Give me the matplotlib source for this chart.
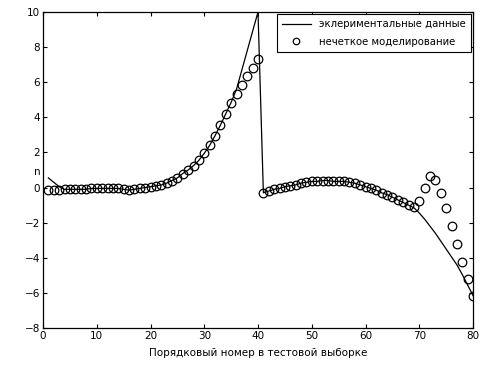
import numpy as np
import matplotlib
matplotlib.use("Agg")
import matplotlib.pyplot as plt

# test sample index
idx = np.arange(1, 81)

# fuzzy model output (circles)
model = [-0.15, -0.15, -0.15, -0.1, -0.1, -0.1, -0.1, -0.1, -0.05, -0.05,
         -0.05, -0.05, -0.05, -0.05, -0.1, -0.15, -0.1, -0.05, 0.0, 0.05,
         0.1, 0.15, 0.25, 0.4, 0.55, 0.8, 1.0, 1.25, 1.55, 1.95,
         2.4, 2.95, 3.55, 4.2, 4.8, 5.35, 5.85, 6.35, 6.8, 7.3,
         -0.3, -0.2, -0.1, -0.05, 0.05, 0.1, 0.15, 0.25, 0.3, 0.35,
         0.35, 0.4, 0.4, 0.35, 0.35, 0.35, 0.3, 0.25, 0.15, 0.05,
         -0.05, -0.15, -0.3, -0.4, -0.55, -0.7, -0.85, -1.0, -1.1, -0.75,
         0.0, 0.65, 0.45, -0.3, -1.15, -2.2, -3.2, -4.25, -5.2, -6.2]

# experimental data (line)
exper = [0.55, 0.3, 0.05, -0.1, -0.1, -0.1, -0.1, -0.1, -0.05, -0.05,
         -0.05, -0.05, -0.05, -0.05, -0.1, -0.15, -0.1, -0.05, 0.0, 0.05,
         0.1, 0.15, 0.25, 0.4, 0.55, 0.8, 1.0, 1.25, 1.55, 1.95,
         2.4, 2.95, 3.55, 4.2, 4.85, 5.6, 6.7, 7.8, 8.9, 10.0,
         -0.3, -0.2, -0.1, -0.05, 0.05, 0.1, 0.15, 0.25, 0.3, 0.35,
         0.35, 0.4, 0.4, 0.35, 0.35, 0.35, 0.3, 0.25, 0.15, 0.05,
         -0.05, -0.15, -0.3, -0.4, -0.55, -0.7, -0.85, -1.0, -1.15, -1.45,
         -1.8, -2.2, -2.6, -3.05, -3.5, -3.95, -4.4, -4.95, -5.55, -6.15]

xticks = np.arange(0, 81, 10)
yticks = np.arange(-8, 11, 2)

plt.rcParams['font.family'] = ['DejaVu Sans']
plt.rcParams['font.size'] = 7.5

fig = plt.figure(figsize=(4.9, 3.66), dpi=100)
ax = fig.add_axes([43 / 490, 1 - 328 / 366, 430 / 490, 316 / 366])

ax.plot(idx, exper, 'k-', lw=0.9, label='эклериментальные данные')
ax.plot(idx, model, 'o', mfc='none', mec='k', ms=6.2, mew=0.9,
        label='нечеткое моделирование')

ax.set_xlim(0, 80)
ax.set_ylim(-8, 10)
ax.set_xticks(xticks)
ax.set_yticks(yticks)
ax.tick_params(direction='in', top=True, right=True, length=3, width=0.8, pad=2)
for s in ax.spines.values():
    s.set_linewidth(0.9)

ax.set_xlabel('Порядковый номер в тестовой выборке', labelpad=5)
ax.set_ylabel('n', rotation=0, va='center', ha='center')
ax.yaxis.set_label_coords(-0.014, 0.494)

leg = ax.legend(loc='upper right', fancybox=False, edgecolor='k',
                framealpha=1, borderaxespad=0.2, handlelength=2.9,
                labelspacing=0.75, borderpad=0.5, markerscale=0.75,
                fontsize=7.3)
leg.get_frame().set_linewidth(0.8)

fig.savefig('out.png', dpi=100)
